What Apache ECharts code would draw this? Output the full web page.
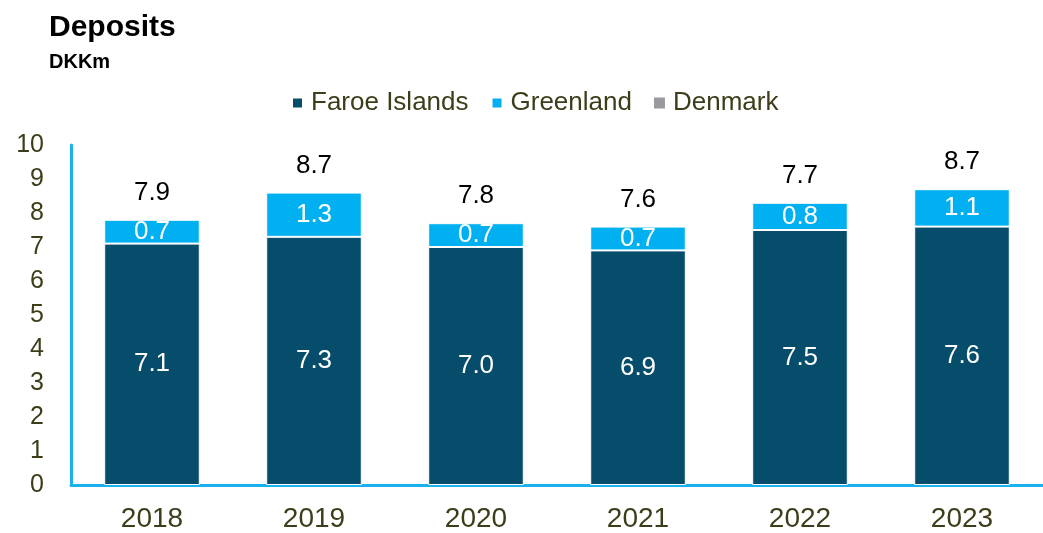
<!DOCTYPE html>
<html>
<head>
<meta charset="utf-8">
<script src="https://cdn.jsdelivr.net/npm/echarts@6/dist/echarts.min.js"></script>
<style>
  html, body { margin: 0; padding: 0; background: #fff; }
  #chart { width: 1043px; height: 533px; }
</style>
</head>
<body>
<div id="chart"></div>
<script>
const years = ['2018', '2019', '2020', '2021', '2022', '2023'];
const faroe = [7.1, 7.3, 7.0, 6.9, 7.5, 7.6];
const greenland = [0.7, 1.3, 0.7, 0.7, 0.8, 1.1];
const denmark = [0, 0, 0, 0, 0, 0];
const totals = [7.9, 8.7, 7.8, 7.6, 7.7, 8.7];

const font = 'Liberation Sans, Arial, sans-serif';
const olive = '#3d3d1a';

const chart = echarts.init(document.getElementById('chart'));
chart.setOption({
  animation: false,
  textStyle: { fontFamily: font },
  title: {
    text: 'Deposits',
    subtext: 'DKKm',
    left: 44,
    top: 8,
    itemGap: 9,
    textStyle: { fontSize: 30, fontWeight: 'bold', color: '#000' },
    subtextStyle: { fontSize: 20, fontWeight: 'bold', color: '#000' }
  },
  legend: {
    top: 85,
    left: 286,
    itemWidth: 11,
    itemHeight: 11,
    itemGap: 22,
    icon: 'rect',
    textStyle: { fontSize: 26, color: olive, padding: [0, 0, 0, 3] },
    data: ['Faroe Islands', 'Greenland', 'Denmark']
  },
  grid: { left: 71, right: 0, top: 145, bottom: 46 },
  xAxis: {
    type: 'category',
    data: years,
    axisLine: { lineStyle: { color: '#1ab2ee', width: 3 } },
    axisTick: { show: false },
    axisLabel: { fontSize: 28, color: olive, margin: 20 }
  },
  yAxis: {
    type: 'value',
    min: 0,
    max: 10,
    interval: 1,
    axisLine: { show: true, lineStyle: { color: '#1ab2ee', width: 3 } },
    axisTick: { show: false },
    splitLine: { show: false },
    axisLabel: { fontSize: 25, color: olive, margin: 27 }
  },
  series: [
    {
      name: 'Faroe Islands',
      type: 'bar',
      stack: 'dep',
      barWidth: '59%',
      data: faroe,
      itemStyle: { color: '#064c6b', borderColor: '#fff', borderWidth: 1 },
      label: {
        show: true, position: 'inside', color: '#fff', fontSize: 26,
        formatter: p => p.value.toFixed(1)
      }
    },
    {
      name: 'Greenland',
      type: 'bar',
      stack: 'dep',
      data: greenland,
      itemStyle: { color: '#00b0f0', borderColor: '#fff', borderWidth: 1 },
      label: {
        show: true, position: 'inside', color: '#fff', fontSize: 26,
        formatter: p => p.value.toFixed(1)
      }
    },
    {
      name: 'Denmark',
      type: 'bar',
      stack: 'dep',
      data: denmark,
      itemStyle: { color: '#9a9a9e' },
      label: {
        show: true, position: 'top', distance: 14, color: '#000', fontSize: 26,
        formatter: p => totals[p.dataIndex].toFixed(1)
      }
    }
  ]
});
</script>
</body>
</html>
